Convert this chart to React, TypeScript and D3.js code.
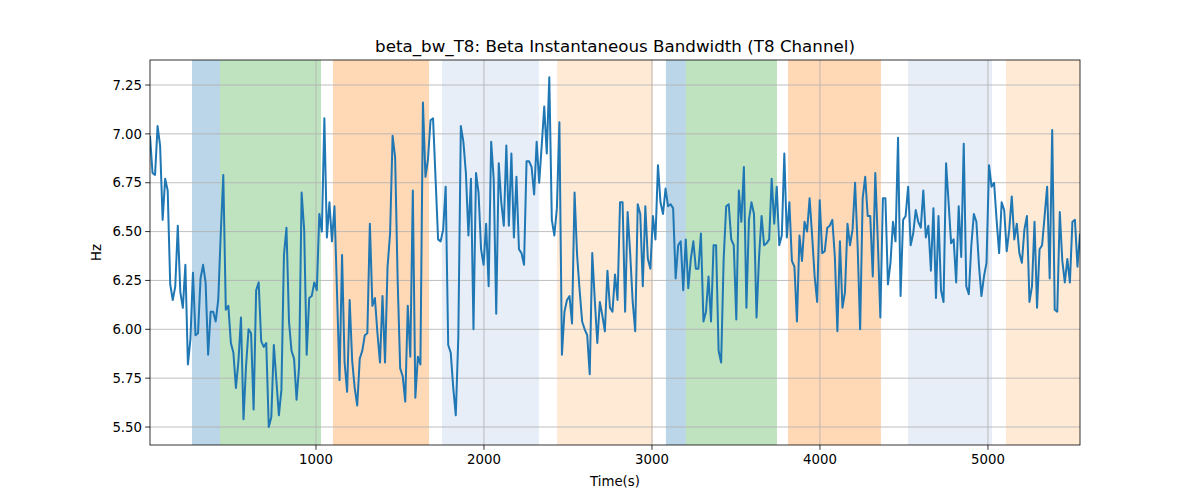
import * as d3 from "d3";

// Hz values read left to right, in chunks
const seg1 = [6.99, 6.80, 6.79, 7.04, 6.94, 6.56, 6.77, 6.71, 6.23, 6.15, 6.22, 6.53, 6.19, 6.11, 6.33, 5.82, 5.95, 6.29, 5.97, 5.98, 6.26, 6.33, 6.24, 5.87, 6.09, 6.09, 6.04, 6.15, 6.49, 6.79, 6.10, 6.12, 5.93, 5.88, 5.70, 5.84, 6.06, 5.54, 5.81, 6.00, 5.98, 5.59, 6.20, 6.24, 5.94, 5.91, 5.93, 5.50, 5.55, 5.92, 5.74, 5.56, 5.69, 6.38, 6.52, 6.04, 5.89, 5.85, 5.64, 5.81, 6.70, 6.51, 5.87];
const seg2 = [6.16, 6.17, 6.24, 6.20, 6.59, 6.50, 7.08, 6.47, 6.65, 6.45, 6.63, 6.19, 5.74, 6.38, 5.83, 5.68, 6.15, 5.84, 5.70, 5.61, 5.85, 5.89, 5.97, 5.98, 6.54, 6.12, 6.16, 5.98, 5.83, 6.17, 5.83, 6.32, 6.49, 6.99, 6.88, 6.25, 5.80, 5.76, 5.63, 6.12, 5.86, 6.71, 5.65, 5.86, 5.82, 7.16, 6.78, 6.87, 7.07, 7.08, 6.77, 6.46, 6.45, 6.51, 6.73, 5.92, 5.88, 5.70, 5.56, 5.96, 7.04, 6.96];
const seg3 = [6.80, 6.48, 6.77, 6.00, 6.80, 6.70, 6.41, 6.33, 6.54, 6.22, 6.96, 6.77, 6.08, 6.85, 6.65, 6.53, 6.94, 6.53, 6.90, 6.47, 6.78, 6.41, 6.39, 6.33, 6.86, 6.86, 6.83, 6.69, 6.96, 6.75, 6.94, 7.14, 6.90, 7.29, 6.56, 6.48, 6.62, 7.06, 5.87, 6.09, 6.15, 6.17, 6.03, 6.70, 6.38, 6.20, 6.04, 6.00, 5.97, 5.77, 6.39, 6.15, 5.93, 6.14, 6.07, 5.99, 6.30, 6.11, 6.09, 6.28, 6.15, 6.65];
const seg4 = [6.65, 6.09, 6.60, 6.39, 6.14, 5.99, 6.64, 6.59, 6.22, 6.63, 6.36, 6.31, 6.58, 6.46, 6.84, 6.65, 6.59, 6.72, 6.63, 6.64, 6.62, 6.26, 6.43, 6.45, 6.20, 6.46, 6.21, 6.36, 6.45, 6.31, 6.31, 6.49, 6.04, 6.09, 6.27, 6.04, 6.43, 6.43, 5.89, 5.83, 6.36, 6.63, 6.64, 6.46, 6.43, 6.05, 6.71, 6.55, 6.83, 6.11, 6.56, 6.65, 6.59, 6.06, 6.37, 6.58, 6.43, 6.44, 6.46, 6.77, 6.54];
const seg5 = [6.73, 6.43, 6.48, 6.90, 6.47, 6.65, 6.35, 6.32, 6.04, 6.48, 6.35, 6.55, 6.50, 6.67, 6.48, 6.27, 6.14, 6.66, 6.39, 6.40, 6.52, 6.53, 6.56, 6.37, 5.99, 6.45, 6.11, 6.19, 6.54, 6.43, 6.51, 6.75, 6.43, 6.00, 6.67, 6.78, 6.58, 6.58, 6.27, 6.80, 6.45, 6.06, 6.67, 6.67, 6.23, 6.34, 6.55, 6.45, 6.98, 6.17, 6.56, 6.58, 6.73, 6.43, 6.49, 6.61, 6.55, 6.52, 6.71, 6.47, 6.53, 6.30];
const seg6 = [6.62, 6.16, 6.58, 6.20, 6.14, 6.85, 6.65, 6.44, 6.46, 6.24, 6.63, 6.37, 6.95, 6.22, 6.18, 6.43, 6.59, 6.55, 6.33, 6.17, 6.27, 6.34, 6.84, 6.73, 6.75, 6.56, 6.39, 6.65, 6.61, 6.40, 6.51, 6.68, 6.46, 6.54, 6.39, 6.34, 6.51, 6.58, 6.14, 6.22, 6.55, 6.11, 6.41, 6.43, 6.58, 6.73, 6.26, 7.02, 6.10, 6.09, 6.60, 6.35, 6.24, 6.36, 6.24, 6.55, 6.56, 6.32, 6.49];

const values = [...seg1, ...seg2, ...seg3, ...seg4, ...seg5, ...seg6];
const tStart = 12;
const tEnd = 5548;
const times = values.map((_, i) => tStart + (i * (tEnd - tStart)) / (values.length - 1));

// shaded time spans [start, end, colour]
const spanStarts = [262, 429, 1101, 1750, 2435, 3083, 3202, 3810, 4524, 5107];
const spanEnds = [429, 1030, 1673, 2327, 3006, 3202, 3744, 4363, 5024, 5548];
const spanColors = ["#1f77b4", "#2ca02c", "#ff7f0e", "#aec7e8", "#ffbb78", "#1f77b4", "#2ca02c", "#ff7f0e", "#aec7e8", "#ffbb78"];

const xTicks = [1000, 2000, 3000, 4000, 5000];
const yTicks = [5.5, 5.75, 6.0, 6.25, 6.5, 6.75, 7.0, 7.25];

const W = 1200, H = 500;
const m = { left: 150, right: 1080, top: 60, bottom: 445 };

export default function App() {
  const x = d3.scaleLinear().domain([tStart, tEnd]).range([m.left, m.right]);
  const y = d3.scaleLinear().domain([5.408, 7.378]).range([m.bottom, m.top]);
  const line = d3.line<number>().x((_, i) => x(times[i])).y((d) => y(d));
  const font = "DejaVu Sans, sans-serif";

  return (
    <svg width={W} height={H} style={{ position: "absolute", left: 0, top: 0, background: "#fff" }} fontFamily={font}>
      {spanStarts.map((s, i) => (
        <rect key={i} x={x(s)} y={m.top} width={x(spanEnds[i]) - x(s)} height={m.bottom - m.top}
          fill={spanColors[i]} fillOpacity={0.3} />
      ))}
      {xTicks.map((t) => (
        <line key={t} x1={x(t)} x2={x(t)} y1={m.top} y2={m.bottom} stroke="#b0b0b0" strokeWidth={0.8} />
      ))}
      {yTicks.map((t) => (
        <line key={t} x1={m.left} x2={m.right} y1={y(t)} y2={y(t)} stroke="#b0b0b0" strokeWidth={0.8} />
      ))}
      <defs>
        <clipPath id="c"><rect x={m.left} y={m.top} width={m.right - m.left} height={m.bottom - m.top} /></clipPath>
      </defs>
      <path d={line(values) ?? ""} fill="none" stroke="#1f77b4" strokeWidth={2} clipPath="url(#c)" strokeLinejoin="round" />
      <rect x={m.left} y={m.top} width={m.right - m.left} height={m.bottom - m.top} fill="none" stroke="#000" strokeWidth={0.8} />
      {xTicks.map((t) => (
        <g key={t}>
          <line x1={x(t)} x2={x(t)} y1={m.bottom} y2={m.bottom + 4.9} stroke="#000" strokeWidth={0.8} />
          <text x={x(t)} y={m.bottom + 19} textAnchor="middle" fontSize={13.3}>{t}</text>
        </g>
      ))}
      {yTicks.map((t) => (
        <g key={t}>
          <line x1={m.left - 4.9} x2={m.left} y1={y(t)} y2={y(t)} stroke="#000" strokeWidth={0.8} />
          <text x={m.left - 8} y={y(t)} dy="0.35em" textAnchor="end" fontSize={13.3}>{t.toFixed(2)}</text>
        </g>
      ))}
      <text x={(m.left + m.right) / 2} y={486} textAnchor="middle" fontSize={13.3}>Time(s)</text>
      <text transform={`translate(101,${(m.top + m.bottom) / 2}) rotate(-90)`} textAnchor="middle" fontSize={13.3}>Hz</text>
      <text x={(m.left + m.right) / 2} y={52} textAnchor="middle" fontSize={16.7}>beta_bw_T8: Beta Instantaneous Bandwidth (T8 Channel)</text>
    </svg>
  );
}
